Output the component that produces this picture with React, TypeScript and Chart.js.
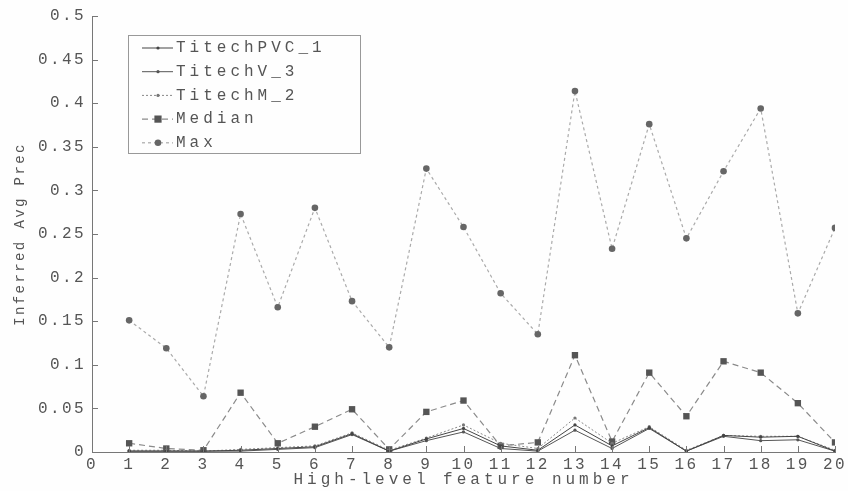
import React, { useEffect, useRef } from "react";
import { Chart, registerables } from "chart.js";

Chart.register(...registerables);

const features = [1, 2, 3, 4, 5, 6, 7, 8, 9, 10, 11, 12, 13, 14, 15, 16, 17, 18, 19, 20];
const titechPVC1 = [0.001, 0.001, 0.001, 0.002, 0.004, 0.006, 0.021, 0.001, 0.015, 0.027, 0.007, 0.002, 0.031, 0.007, 0.028, 0.001, 0.019, 0.017, 0.018, 0.001];
const titechV3 = [0.001, 0.001, 0.001, 0.001, 0.003, 0.005, 0.020, 0.001, 0.013, 0.023, 0.004, 0.001, 0.025, 0.004, 0.027, 0.001, 0.018, 0.013, 0.014, 0.001];
const titechM2 = [0.002, 0.002, 0.001, 0.003, 0.005, 0.007, 0.022, 0.002, 0.016, 0.031, 0.010, 0.004, 0.039, 0.010, 0.029, 0.002, 0.019, 0.018, 0.018, 0.002];
const median = [0.010, 0.004, 0.002, 0.068, 0.010, 0.029, 0.049, 0.003, 0.046, 0.059, 0.007, 0.011, 0.111, 0.012, 0.091, 0.041, 0.104, 0.091, 0.056, 0.011];
const maxVals = [0.151, 0.119, 0.064, 0.273, 0.166, 0.280, 0.173, 0.120, 0.325, 0.258, 0.182, 0.135, 0.414, 0.233, 0.376, 0.245, 0.322, 0.394, 0.159, 0.257];
const seriesNames = ["TitechPVC_1", "TitechV_3", "TitechM_2", "Median", "Max"];
const xTitle = "High-level feature number";
const yTitle = "Inferred Avg Prec";

const FONT = "'Liberation Mono', 'DejaVu Sans Mono', monospace";
const TEXT = "#555";

export default function App() {
  const ref = useRef<HTMLCanvasElement | null>(null);

  useEffect(() => {
    document.body.style.margin = "0";
    document.body.style.background = "#fefefe";
    const canvas = ref.current!;
    const pts = (vals: number[]) => features.map((f, i) => ({ x: f, y: vals[i] }));

    const styles = [
      { color: "#444", dash: [] as number[], pointStyle: "circle", radius: 1.6, pointColor: "#444", width: 1 },
      { color: "#555", dash: [] as number[], pointStyle: "circle", radius: 1.6, pointColor: "#555", width: 1 },
      { color: "#888", dash: [2, 2], pointStyle: "circle", radius: 1.6, pointColor: "#777", width: 1 },
      { color: "#8a8a8a", dash: [6, 4], pointStyle: "rect", radius: 4.5, pointColor: "#555", width: 1.2 },
      { color: "#aaa", dash: [3, 3], pointStyle: "circle", radius: 3.3, pointColor: "#666", width: 1.2 },
    ];
    const values = [titechPVC1, titechV3, titechM2, median, maxVals];

    const ticksPlugin = {
      id: "innerTicksLegend",
      beforeDraw(chart: any) {
        chart.ctx.letterSpacing = "4px";
      },
      afterDatasetsDraw(chart: any) {
        const ctx = chart.ctx;
        const { left, bottom } = chart.chartArea;
        ctx.save();
        ctx.letterSpacing = "0px";
        ctx.strokeStyle = "#777";
        ctx.lineWidth = 1;
        ctx.beginPath();
        const xs = chart.scales.x;
        xs.ticks.forEach((t: any) => {
          const px = Math.round(xs.getPixelForValue(t.value)) + 0.5;
          ctx.moveTo(px, bottom);
          ctx.lineTo(px, bottom - 6);
        });
        const ys = chart.scales.y;
        ys.ticks.forEach((t: any) => {
          const py = Math.round(ys.getPixelForValue(t.value)) + 0.5;
          ctx.moveTo(left, py);
          ctx.lineTo(left + 6, py);
        });
        ctx.stroke();
        ctx.restore();
        ctx.letterSpacing = "2.4px";
      },
      afterDraw(chart: any) {
        const ctx = chart.ctx;
        ctx.save();
        ctx.letterSpacing = "0px";
        const bx = 128, by = 35, bw = 232, bh = 118;
        ctx.fillStyle = "#fefefe";
        ctx.fillRect(bx, by, bw, bh);
        ctx.strokeStyle = "#999";
        ctx.lineWidth = 1;
        ctx.strokeRect(bx + 0.5, by + 0.5, bw, bh);
        seriesNames.forEach((name, i) => {
          const y = 48 + i * 23.7;
          const s = styles[i];
          ctx.save();
          ctx.strokeStyle = s.color;
          ctx.lineWidth = s.width;
          ctx.setLineDash(s.dash);
          ctx.beginPath();
          ctx.moveTo(142, y);
          ctx.lineTo(173, y);
          ctx.stroke();
          ctx.setLineDash([]);
          ctx.fillStyle = s.pointColor;
          if (s.pointStyle === "rect") {
            ctx.fillRect(158 - s.radius * 0.8, y - s.radius * 0.8, s.radius * 1.6, s.radius * 1.6);
          } else {
            ctx.beginPath();
            ctx.arc(158, y, s.radius, 0, Math.PI * 2);
            ctx.fill();
          }
          ctx.restore();
          ctx.letterSpacing = "4px";
          ctx.font = `16px ${FONT}`;
          ctx.fillStyle = TEXT;
          ctx.textBaseline = "middle";
          ctx.textAlign = "left";
          ctx.fillText(name, 176, y);
        });
        ctx.restore();
      },
    };

    const chart = new Chart(canvas, {
      type: "line",
      data: {
        datasets: values.map((v, i) => ({
          label: seriesNames[i],
          data: pts(v),
          borderColor: styles[i].color,
          borderWidth: styles[i].width,
          borderDash: styles[i].dash,
          pointStyle: styles[i].pointStyle as any,
          pointRadius: styles[i].radius,
          pointBackgroundColor: styles[i].pointColor,
          pointBorderColor: styles[i].pointColor,
          pointBorderWidth: 0,
          fill: false,
          tension: 0,
        })),
      },
      options: {
        animation: false,
        responsive: false,
        devicePixelRatio: 1,
        layout: { padding: { left: 0, right: 13, top: 16, bottom: 0 } },
        plugins: { legend: { display: false }, tooltip: { enabled: false } },
        scales: {
          x: {
            type: "linear",
            min: 0,
            max: 20,
            afterFit: (s: any) => { s.height = 39; },
            grid: { display: true, drawOnChartArea: false, drawTicks: false, z: -1 },
            border: { display: true, color: "#777", width: 1, z: 0 },
            ticks: {
              stepSize: 1,
              padding: 3,
              color: TEXT,
              font: { family: FONT, size: 16 },
              maxRotation: 0,
              autoSkip: false,
              z: 1,
            },
            title: {
              display: true,
              text: xTitle,
              color: TEXT,
              font: { family: FONT, size: 16 },
              padding: { top: 0, bottom: 2 },
            },
          },
          y: {
            type: "linear",
            min: 0,
            max: 0.5,
            afterFit: (s: any) => { s.width = 92; },
            grid: { display: true, drawOnChartArea: false, drawTicks: false, z: 1 },
            border: { display: true, color: "#777", width: 1, z: 2 },
            ticks: {
              stepSize: 0.05,
              padding: 6,
              color: TEXT,
              font: { family: FONT, size: 16 },
              callback: (v: any) => String(Math.round(Number(v) * 100) / 100),
              z: 1,
            },
            title: {
              display: true,
              text: yTitle,
              color: TEXT,
              font: { family: FONT, size: 14 },
              padding: { top: 12, bottom: 0 },
            },
          },
        },
      },
      plugins: [ticksPlugin],
    });
    return () => chart.destroy();
  }, []);

  return <canvas ref={ref} width={848} height={491} style={{ display: "block" }} />;
}
